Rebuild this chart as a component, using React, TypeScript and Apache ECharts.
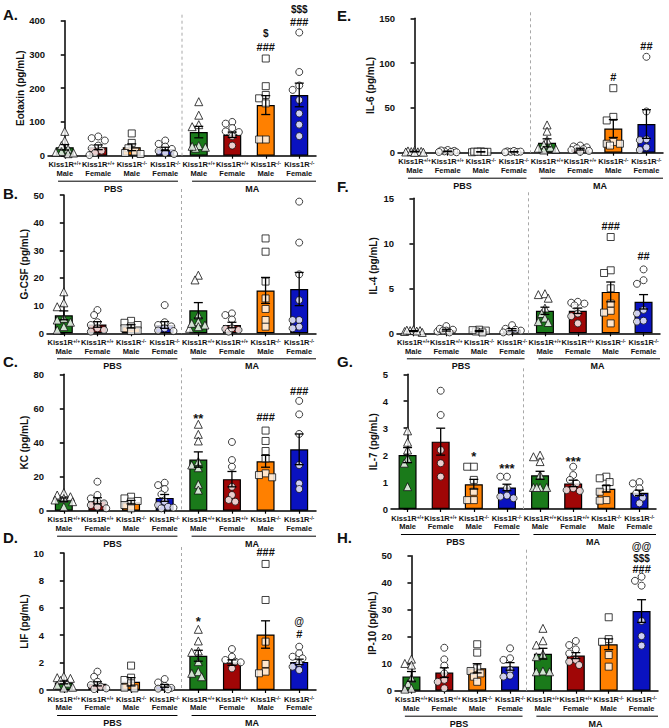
import React, { useEffect, useRef } from 'react';
import * as echarts from 'echarts';

const FONT = 'Arial, "Liberation Sans", Helvetica, sans-serif';

// genotype / sex groups, repeated for PBS and MA
const categories = [
  'Kiss1R|+/+|Male|0', 'Kiss1R|+/+|Female|1', 'Kiss1R|-/-|Male|2', 'Kiss1R|-/-|Female|3',
  'Kiss1R|+/+|Male|4', 'Kiss1R|+/+|Female|5', 'Kiss1R|-/-|Male|6', 'Kiss1R|-/-|Female|7',
];
const groups = ['PBS', 'MA'];
const barColors = ['#1a7a1a', '#a00606', '#ff8000', '#0a12c0'];
const symbols = ['triangle', 'circle', 'rect', 'circle'];

// A. Eotaxin
const eotaxinMean = [25, 25, 25, 20, 70, 62, 150, 180];
const eotaxinSem = [8, 7, 10, 5, 17, 8, 28, 35];
const eotaxinPts = [
  [72, 45, 30, 20, 12, 6, 8, 10],
  [57, 52, 45, 30, 22, 15, 8, 2],
  [66, 38, 22, 12, 8, 5],
  [45, 35, 27, 20, 14, 8, 5],
  [160, 120, 92, 86, 30, 25, 22, 28],
  [100, 95, 82, 72, 70, 58, 30],
  [288, 206, 180, 170, 155, 48, 48],
  [365, 248, 208, 195, 165, 125, 92, 58],
];
const eotaxinSig: [number, number, string][] = [[6, 362, '$'], [6, 323, '###'], [7, 432, '$$$'], [7, 397, '###']];

// B. G-CSF
const gcsfMean = [6.5, 3.2, 2.5, 3, 8.3, 3, 15.5, 16];
const gcsfSem = [1.6, 1, 0.6, 1.2, 2.8, 1, 4.7, 6];
const gcsfPts = [
  [15, 11, 9.6, 5.4, 4.8, 4, 2.4, 1.2],
  [8.4, 6.6, 4, 3, 1.8, 1.2, 0.6],
  [4.5, 3.8, 3, 2.5, 1.8, 1, 0.8],
  [10.2, 4, 3, 2.5, 1.8, 1, 0.8],
  [21, 19.3, 6.6, 4.2, 3, 2.4, 1.8, 3.6],
  [7.2, 6.6, 5, 1.6, 1.2, 0.6, 1.8],
  [34.3, 29.5, 18.7, 12.6, 8.8, 4.8, 2.4],
  [47.6, 32.8, 21.3, 12, 4.8, 4.8, 2.4, 1.8],
];
const gcsfSig: [number, number, string][] = [];

// C. KC
const kcMean = [6.5, 5.8, 5, 7.5, 30, 18.5, 29, 36];
const kcSem = [1, 1.8, 1, 2, 4.5, 4.5, 3.5, 9];
const kcPts = [
  [10.6, 9.2, 8.2, 6.3, 5.3, 2.3, 7.2],
  [17, 9.2, 7.2, 5.3, 4.3, 3.3, 2.3, 1.4],
  [8.2, 7.2, 5.7, 5.3, 3.3, 1.4],
  [16.4, 15, 12.7, 9.6, 5.3, 2.3, 3.3, 1.4, 1.8],
  [50.7, 44.8, 40.9, 28.8, 25.2, 15.5, 12.1, 26.8],
  [40.3, 29.7, 25.8, 14, 9.2, 6.3, 5.3],
  [47, 40.9, 35, 30.7, 21.9, 20.9, 19.6],
  [64.4, 56.5, 45, 26.8, 16, 12.7],
];
const kcSig: [number, number, string][] = [[4, 56, '**'], [6, 55, '###'], [7, 70, '###']];

// D. LIF
const lifMean = [0.55, 0.45, 0.6, 0.3, 2.5, 2.0, 4.05, 2.05];
const lifSem = [0.1, 0.15, 0.3, 0.1, 0.4, 0.2, 1.0, 0.2];
const lifPts = [
  [1.0, 0.9, 0.85, 0.7, 0.5, 0.35, 0.2, 0.15],
  [1.34, 0.97, 0.6, 0.36, 0.24, 0.12, 0.07],
  [1.78, 0.9, 0.73, 0.49, 0.17, 0.12],
  [0.8, 0.55, 0.3, 0.15, 0.05, 0.1],
  [4.43, 3.58, 2.85, 2.75, 2.07, 1.34, 0.97, 1.22],
  [2.99, 2.43, 2.19, 2.07, 2.02, 1.58],
  [9.2, 6.57, 3.53, 1.9, 1.34, 1.22],
  [3.16, 2.68, 2.43, 2.31, 1.95, 1.7, 1.46],
];
const lifSig: [number, number, string][] = [[4, 5.2, '*'], [6, 10.1, '###'], [7, 5.0, '@'], [7, 4.06, '#']];

// E. IL-6
const il6Mean = [1.2, 1.5, 1, 1, 11, 4, 27, 32];
const il6Sem = [0.3, 0.3, 0.2, 0.2, 4.5, 1, 10, 16];
const il6Pts = [
  [2.5, 1.5, 1, 0.5, 2, 0.8, 1.2, 0.3],
  [3, 2, 1, 0.5, 1.5, 2.5, 0.8],
  [1, 1.5, 0.5, 0.8, 1.2, 1],
  [1.5, 1, 0.5, 2, 0.8, 1.2],
  [31, 24, 14, 9, 6, 4, 3, 5],
  [8, 7, 6, 5, 4, 3, 2, 1],
  [72, 40, 36, 12, 10, 10, 8],
  [107, 46, 15, 14, 3, 6],
];
const il6Sig: [number, number, string][] = [[6, 84, '#'], [7, 119, '##']];

// F. IL-4
const il4Mean = [0.25, 0.35, 0.25, 0.4, 2.5, 2.5, 4.6, 3.5];
const il4Sem = [0.05, 0.1, 0.07, 0.12, 0.4, 0.3, 1.1, 0.8];
const il4Pts = [
  [0.4, 0.3, 0.2, 0.3, 0.1, 0.35, 0.25],
  [0.8, 0.4, 0.3, 0.2, 0.5, 0.3, 0.1],
  [0.4, 0.3, 0.2, 0.1, 0.35],
  [0.9, 0.5, 0.3, 0.2, 0.4, 0.1],
  [4.4, 4.3, 3.9, 2.8, 2.2, 1.3, 1.7, 1.2],
  [3.5, 3.3, 3.4, 3.1, 2.2, 1.9, 1.1],
  [10.7, 7, 6.7, 5, 3.3, 2.5, 2.3, 1.1],
  [7.1, 5.9, 5.5, 2.6, 2.2, 1.3, 1.4],
];
const il4Sig: [number, number, string][] = [[6, 11.9, '###'], [7, 8.6, '##']];

// G. IL-7
const il7Mean = [2, 2.5, 0.92, 0.8, 1.25, 0.95, 0.75, 0.6];
const il7Sem = [0.28, 0.5, 0.18, 0.12, 0.15, 0.12, 0.12, 0.1];
const il7Pts = [
  [2.9, 2.48, 2.19, 1.88, 1.7, 0.83],
  [4.39, 3.49, 2.19, 1.7, 1.2],
  [1.57, 1.57, 1.08, 0.64, 0.33, 0.33],
  [1.2, 1.2, 0.77, 0.5, 0.4, 0.46],
  [2.0, 1.94, 1.76, 1.26, 0.8, 0.8, 0.8, 0.8],
  [1.57, 1.26, 1.08, 0.95, 0.77, 0.7, 0.67],
  [1.2, 1.14, 1.0, 0.77, 0.64, 0.33, 0.31],
  [1.0, 0.95, 0.77, 0.58, 0.42, 0.21],
];
const il7Sig: [number, number, string][] = [[2, 2.07, '*'], [3, 1.63, '***'], [5, 1.88, '***']];

// H. IP-10
const ip10Mean = [5.3, 6.7, 8.3, 9, 13.7, 13, 17.2, 29.5];
const ip10Sem = [1.8, 1.8, 1.7, 1.4, 2, 1.1, 2, 4.2];
const ip10Pts = [
  [11.7, 10.1, 9.5, 4.6, 2.7, 0.9, 0.6],
  [15.9, 11.6, 9.3, 6.4, 4, 3.3, 0.9],
  [17.2, 14.1, 8.3, 7.3, 6.4, 5.2, 3.3],
  [15.7, 12, 11.4, 7.7, 5.6, 5.2],
  [23.1, 18.5, 16.9, 13.5, 12.6, 7, 7.3, 7],
  [18.4, 16.9, 15.3, 13.8, 11.4, 10.7, 9.5],
  [27.2, 19.1, 18.1, 13.2, 8.9],
  [42.2, 40.7, 38.9, 25.8, 20.2, 16.7],
];
const ip10Sig: [number, number, string][] = [[7, 53.3, '@@'], [7, 49, '$$$'], [7, 45, '###']];

interface Panel {
  tag: string;
  name: string;
  max: number;
  step: number;
  mean: number[];
  sem: number[];
  pts: number[][];
  sig: [number, number, string][];
  box: [number, number, number, number]; // left, right, top, zero line
  gap: number;
  tagPos: [number, number];
}

const panels: Panel[] = [
  { tag: 'A.', name: 'Eotaxin (pg/mL)', max: 400, step: 100, mean: eotaxinMean, sem: eotaxinSem, pts: eotaxinPts, sig: eotaxinSig, box: [48, 316, 20.7, 155.7], gap: 18, tagPos: [3, 7] },
  { tag: 'B.', name: 'G-CSF (pg/mL)', max: 50, step: 10, mean: gcsfMean, sem: gcsfSem, pts: gcsfPts, sig: gcsfSig, box: [47, 316, 195, 333.3], gap: 17, tagPos: [3, 186] },
  { tag: 'C.', name: 'KC (pg/mL)', max: 80, step: 20, mean: kcMean, sem: kcSem, pts: kcPts, sig: kcSig, box: [47, 316, 374.3, 510.7], gap: 17, tagPos: [3, 354] },
  { tag: 'D.', name: 'LIF (pg/mL)', max: 10, step: 2, mean: lifMean, sem: lifSem, pts: lifPts, sig: lifSig, box: [47, 316, 553, 690], gap: 17, tagPos: [3, 530] },
  { tag: 'E.', name: 'IL-6 (pg/mL)', max: 150, step: 50, mean: il6Mean, sem: il6Sem, pts: il6Pts, sig: il6Sig, box: [398, 663, 18.3, 152.7], gap: 20, tagPos: [337, 8] },
  { tag: 'F.', name: 'IL-4 (pg/mL)', max: 15, step: 5, mean: il4Mean, sem: il4Sem, pts: il4Pts, sig: il4Sig, box: [397, 660, 198.3, 333.3], gap: 19, tagPos: [337, 179] },
  { tag: 'G.', name: 'IL-7 (pg/mL)', max: 5, step: 1, mean: il7Mean, sem: il7Sem, pts: il7Pts, sig: il7Sig, box: [391, 656, 374.3, 509], gap: 10, tagPos: [337, 354] },
  { tag: 'H.', name: 'IP-10 (pg/mL)', max: 50, step: 10, mean: ip10Mean, sem: ip10Sem, pts: ip10Pts, sig: ip10Sig, box: [395, 658, 555.7, 690.7], gap: 17, tagPos: [337, 530] },
];

// spread points sideways so that dots at similar heights overlap less, staying near the bar
function swarm(vals: number[], pxPerUnit: number, bandPx: number): number[] {
  const d = 5.5;
  const placed: { x: number; y: number }[] = [];
  const out = new Array(vals.length).fill(0);
  const order = vals.map((_, i) => i).sort((a, b) => vals[b] - vals[a]);
  const cands = [0, -0.6, 0.6, -1.2, 1.2, -1.6, 1.6];
  for (const i of order) {
    const y = vals[i] * pxPerUnit;
    let best = 0;
    let bestGap = -1;
    for (const c of cands) {
      const cx = c * d;
      const gap = placed.length ? Math.min(...placed.map((p) => Math.hypot(p.x - cx, p.y - y))) : Infinity;
      if (gap >= d) {
        best = cx;
        bestGap = gap;
        break;
      }
      if (gap > bestGap) {
        bestGap = gap;
        best = cx;
      }
    }
    placed.push({ x: best, y });
    out[i] = best / bandPx;
  }
  return out;
}

function buildOption(): echarts.EChartsOption {
  const grid: any[] = [];
  const xAxis: any[] = [];
  const yAxis: any[] = [];
  const series: any[] = [];
  const graphic: any[] = [];

  panels.forEach((p, k) => {
    const [L, R, T, Z] = p.box;
    grid.push({ left: L, top: T, width: R - L, height: Z - T });
    xAxis.push({
      type: 'category',
      gridIndex: k,
      data: categories,
      axisLine: { lineStyle: { color: '#000', width: 1.5 } },
      axisTick: { show: true, alignWithLabel: true, length: 3, lineStyle: { color: '#000', width: 1.2 } },
      axisLabel: {
        interval: 0,
        margin: 5,
        hideOverlap: false,
        formatter: (v: string) => {
          const [a, b, c] = v.split('|');
          return `{m|${a}}{s|${b}}\n{m|${c}}`;
        },
        rich: {
          m: { fontSize: 7.5, fontWeight: 'bold', fontFamily: FONT, color: '#111', lineHeight: 8.5 },
          s: { fontSize: 5, fontWeight: 'bold', fontFamily: FONT, color: '#111', lineHeight: 5, verticalAlign: 'top' },
        },
      },
    });
    xAxis.push({ type: 'value', gridIndex: k, min: -0.5, max: 7.5, show: false });
    yAxis.push({
      type: 'value',
      gridIndex: k,
      min: 0,
      max: p.max,
      interval: p.step,
      name: p.name,
      nameLocation: 'middle',
      nameGap: p.gap,
      nameTextStyle: { fontSize: 10, fontWeight: 'bold', fontFamily: FONT, color: '#111' },
      axisLine: { show: true, lineStyle: { color: '#000', width: 1.5 } },
      axisTick: { show: true, length: 4, lineStyle: { color: '#000', width: 1.5 } },
      axisLabel: { margin: 3, fontSize: 9.5, fontWeight: 'bold', fontFamily: FONT, color: '#111' },
      splitLine: { show: false },
    });

    const xa = k * 2;
    const xv = k * 2 + 1;
    const pxPerUnit = (Z - T) / p.max;
    const bandPx = (R - L) / 8;

    // separator and PBS / MA group labels
    series.push({
      type: 'custom',
      xAxisIndex: xv,
      yAxisIndex: k,
      silent: true,
      z: 1,
      data: [[3.5, 0]],
      renderItem: (_params: any, api: any) => {
        const base = api.coord([3.5, 0]);
        const topY = api.coord([3.5, p.max])[1] - 6;
        const y0 = base[1];
        const px = (v: number) => api.coord([v, 0])[0];
        const lineY = y0 + 25.5;
        const textY = y0 + 33;
        const spans = [[-0.2, 3.38, 1.45], [3.8, 7.5, 5.6]];
        const children: any[] = [
          { type: 'line', shape: { x1: base[0], y1: topY, x2: base[0], y2: y0 }, style: { stroke: '#a8a8a8', lineWidth: 1, lineDash: [3, 3] } },
        ];
        spans.forEach((s, gi) => {
          children.push({ type: 'line', shape: { x1: px(s[0]), y1: lineY, x2: px(s[1]), y2: lineY }, style: { stroke: '#000', lineWidth: 1 } });
          children.push({
            type: 'text',
            x: px(s[2]),
            y: textY,
            style: {
              text: groups[gi], fill: '#111', fontSize: 9, fontWeight: 'bold', fontFamily: FONT,
              align: 'center', verticalAlign: 'middle', textAlign: 'center', textVerticalAlign: 'middle',
            },
          });
        });
        return { type: 'group', children };
      },
    });

    series.push({
      type: 'bar',
      xAxisIndex: xa,
      yAxisIndex: k,
      barWidth: 18,
      silent: true,
      z: 2,
      data: p.mean.map((m, i) => ({ value: m, itemStyle: { color: barColors[i % 4] } })),
      itemStyle: { borderColor: '#000', borderWidth: 1.2 },
    });

    const dots: any[] = [];
    p.pts.forEach((vals, i) => {
      const offs = swarm(vals, pxPerUnit, bandPx);
      vals.forEach((v, j) => {
        dots.push({ value: [i + offs[j], v], symbol: symbols[i % 4], symbolSize: i % 4 === 0 ? 8 : 7 });
      });
    });
    series.push({
      type: 'scatter',
      xAxisIndex: xv,
      yAxisIndex: k,
      silent: true,
      z: 3,
      data: dots,
      itemStyle: { color: '#fff', borderColor: '#111', borderWidth: 1 },
    });

    series.push({
      type: 'custom',
      xAxisIndex: xv,
      yAxisIndex: k,
      silent: true,
      z: 4,
      data: p.mean.map((m, i) => [i, m, p.sem[i]]),
      renderItem: (_params: any, api: any) => {
        const x = api.value(0);
        const m = api.value(1);
        const s = api.value(2);
        const hi = api.coord([x, m + s]);
        const lo = api.coord([x, Math.max(0, m - s)]);
        const cap = 4.5;
        const st = { stroke: '#000', lineWidth: 1.3 };
        return {
          type: 'group',
          children: [
            { type: 'line', shape: { x1: hi[0], y1: hi[1], x2: lo[0], y2: lo[1] }, style: st },
            { type: 'line', shape: { x1: hi[0] - cap, y1: hi[1], x2: hi[0] + cap, y2: hi[1] }, style: st },
            { type: 'line', shape: { x1: lo[0] - cap, y1: lo[1], x2: lo[0] + cap, y2: lo[1] }, style: st },
          ],
        };
      },
    });

    if (p.sig.length) {
      series.push({
        type: 'custom',
        xAxisIndex: xv,
        yAxisIndex: k,
        silent: true,
        z: 5,
        data: p.sig.map((s) => [s[0], s[1]]),
        renderItem: (params: any, api: any) => {
          const txt = p.sig[params.dataIndex][2];
          const c = api.coord([api.value(0), api.value(1)]);
          const star = txt[0] === '*';
          const size = star ? 13 : txt[0] === '#' ? 11 : 10;
          return {
            type: 'text',
            x: c[0],
            y: c[1] + (star ? 3 : 0),
            style: {
              text: txt, fill: '#111', fontSize: size, fontWeight: 'bold', fontFamily: FONT,
              align: 'center', verticalAlign: 'middle', textAlign: 'center', textVerticalAlign: 'middle',
            },
          };
        },
      });
    }

    graphic.push({
      type: 'text',
      left: p.tagPos[0],
      top: p.tagPos[1],
      style: { text: p.tag, fontSize: 15, fontWeight: 'bold', fontFamily: FONT, fill: '#111' },
    });
  });

  return { animation: false, backgroundColor: '#fff', grid, xAxis, yAxis, series, graphic };
}

const App: React.FC = () => {
  const chartRef = useRef<HTMLDivElement>(null);

  useEffect(() => {
    document.body.style.margin = '0';
    if (!chartRef.current) return;
    const chart = echarts.init(chartRef.current, undefined, { renderer: 'svg' });
    chart.setOption(buildOption());
    return () => {
      chart.dispose();
    };
  }, []);

  return <div ref={chartRef} style={{ width: 669, height: 728 }} />;
};

export default App;
